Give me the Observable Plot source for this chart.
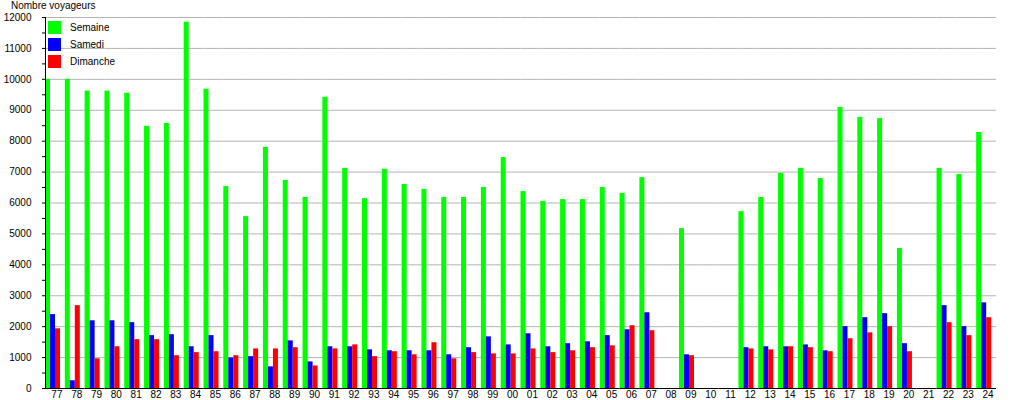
<!DOCTYPE html>
<html>
<head>
<meta charset="utf-8">
<script src="https://cdn.jsdelivr.net/npm/d3@7"></script>
<script src="https://cdn.jsdelivr.net/npm/@observablehq/plot@0.6"></script>
<style>
  body { margin: 0; background: #fff; font-family: "Liberation Sans", Arial, sans-serif; }
  #wrap { position: relative; width: 1015px; height: 400px; }
  #title { position: absolute; left: 11px; top: 0px; font-size: 10px; line-height: 12px; color: #000; white-space: nowrap; }
  #legend { position: absolute; left: 48px; top: 21px; }
  .lg-swatches { font-family: "Liberation Sans", Arial, sans-serif !important; font-size: 10px !important; min-height: 0 !important; margin: 0 !important; color: #000; }
  .lg-swatch { padding-bottom: 4px !important; }
  .lg-swatch svg { margin-right: 9px !important; }
</style>
</head>
<body>
<div id="wrap">
  <div id="chart"></div>
  <div id="title">Nombre voyageurs</div>
  <div id="legend"></div>
</div>
<script>
const years = ["77","78","79","80","81","82","83","84","85","86","87","88","89","90","91","92","93","94","95","96","97","98","99",
  "00","01","02","03","04","05","06","07","08","09","10","11","12","13","14","15","16","17","18","19","20","21","22","23","24"];
const series = ["Semaine", "Samedi", "Dimanche"];
const colors = ["#00ff00", "#0000ff", "#ff0000"];

const semaine = [10000,10000,9620,9620,9550,8480,8570,11850,9680,6530,5560,7800,6730,6180,9420,7120,6140,7090,6600,6440,6180,6180,6500,
  7470,6370,6050,6110,6110,6500,6310,6820,null,5170,null,null,5720,6180,6960,7120,6790,9090,8770,8730,4530,null,7120,6920,8280];
const samedi = [2390,250,2190,2190,2130,1710,1740,1350,1710,990,1030,700,1540,860,1350,1350,1250,1220,1220,1220,1090,1320,1670,
  1410,1770,1350,1450,1510,1710,1900,2450,null,1090,null,null,1320,1350,1350,1410,1220,2000,2290,2420,1450,null,2680,2000,2770];
const dimanche = [1930,2680,960,1350,1580,1580,1060,1160,1190,1060,1280,1280,1320,730,1280,1410,1030,1190,1090,1480,960,1160,1120,
  1120,1280,1160,1220,1320,1380,2030,1870,null,1060,null,null,1280,1250,1350,1320,1190,1610,1800,2000,1190,null,2130,1710,2290];

const yTicks = [1000,2000,3000,4000,5000,6000,7000,8000,9000,10000,11000,12000];
const yLabels = [0,1000,2000,3000,4000,5000,6000,7000,8000,9000,10000,11000,12000];
const yMinor = [500,1500,2500,3500,4500,5500,6500,7500,8500,9500,10500,11500];

const values = [semaine, samedi, dimanche];
// keep rows for missing years (value null) so that every facet exists
const data = years.flatMap((y, i) => series.map((s, k) => ({year: y, series: s, value: values[k][i]})));

const chart = Plot.plot({
  width: 1015,
  height: 400,
  marginTop: 17,
  marginBottom: 12,
  marginLeft: 45,
  marginRight: 19,
  style: {fontFamily: "Liberation Sans, Arial, sans-serif", fontSize: "10px", background: "#fff", color: "#000"},
  fx: {domain: years, padding: 0, label: null, axis: null},
  x: {domain: series, paddingInner: 0, paddingOuter: 0.364, align: 0, axis: null},
  y: {domain: [0, 12000], axis: null},
  color: {domain: series, range: colors},
  marks: [
    Plot.ruleY(yTicks, {stroke: "#b4b4b4"}),
    Plot.barY(data, {fx: "year", x: "series", y: "value", fill: "series"}),
    Plot.ruleY([0], {stroke: "#000"}),
    Plot.frame({anchor: "left", facetAnchor: "left", stroke: "#000"}),
    Plot.axisY({ticks: yLabels, tickSize: 3, tickPadding: 11, label: null, facetAnchor: "left", tickFormat: d => String(d)}),
    Plot.axisY({ticks: yMinor, tickSize: 3, label: null, facetAnchor: "left", tickFormat: () => ""}),
    Plot.axisFx({anchor: "bottom", tickSize: 0, tickPadding: 2, label: null, dx: 1.5})
  ]
});
document.getElementById("chart").appendChild(chart);

const legend = Plot.legend({
  color: {domain: series, range: colors},
  legend: "swatches",
  columns: 1,
  swatchSize: 13,
  className: "lg"
});
document.getElementById("legend").appendChild(legend);
</script>
</body>
</html>
